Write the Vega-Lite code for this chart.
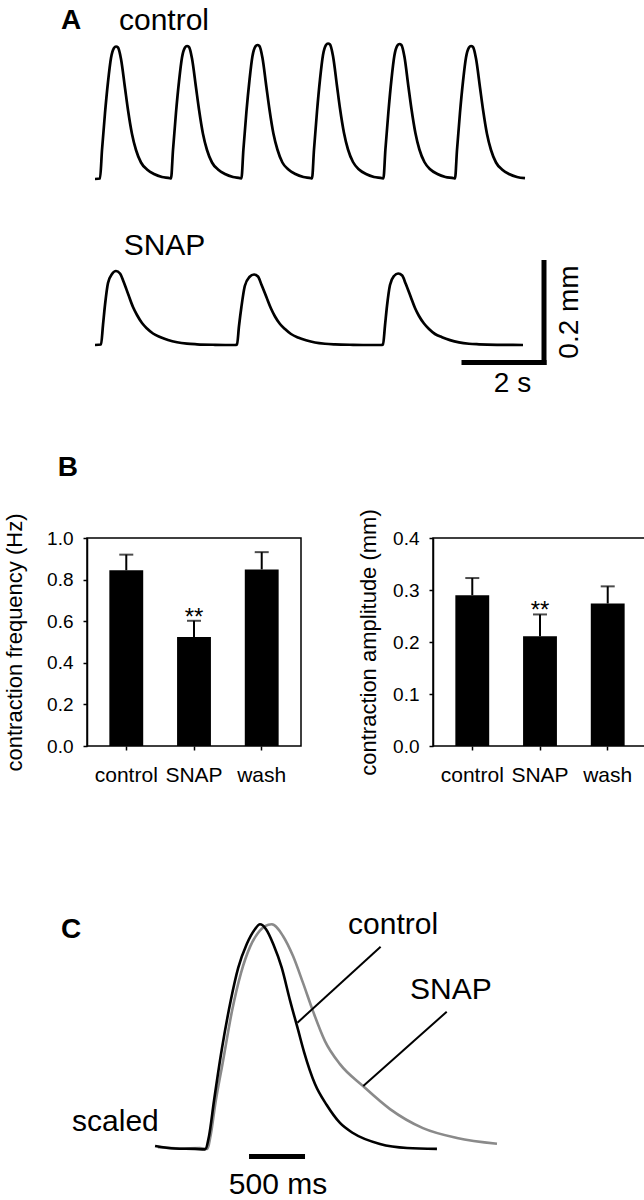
{
"$schema":"https://vega.github.io/schema/vega-lite/v6.json",
"padding":{"left":2,"top":0,"right":0,"bottom":0},
"background":"white",
"config":{
 "font":"Liberation Sans",
 "view":{"stroke":null},
 "axis":{"grid":false,"domainColor":"black","domainWidth":1.5,"tickColor":"black","tickWidth":1.5,"tickSize":4,"labelColor":"black","titleColor":"black","labelFont":"Liberation Sans","titleFont":"Liberation Sans","titleFontWeight":"normal"},
 "title":{"font":"Liberation Sans","color":"black"}
},
"datasets":{
 "ctrl":[{"t":0,"mm":0},{"t":0.125,"mm":0.001},{"t":0.175,"mm":0.058},{"t":0.25,"mm":0.132},{"t":0.325,"mm":0.194},{"t":0.4,"mm":0.242},{"t":0.475,"mm":0.262},{"t":0.525,"mm":0.265},{"t":0.575,"mm":0.263},{"t":0.65,"mm":0.24},{"t":0.75,"mm":0.182},{"t":0.825,"mm":0.138},{"t":0.925,"mm":0.09},{"t":1.025,"mm":0.058},{"t":1.15,"mm":0.033},{"t":1.3,"mm":0.019},{"t":1.475,"mm":0.01},{"t":1.675,"mm":0.004},{"t":1.875,"mm":0.0016},
  {"t":1.9,"mm":0.001},{"t":1.95,"mm":0.058},{"t":2.025,"mm":0.133},{"t":2.1,"mm":0.195},{"t":2.175,"mm":0.243},{"t":2.25,"mm":0.263},{"t":2.3,"mm":0.266},{"t":2.35,"mm":0.264},{"t":2.425,"mm":0.241},{"t":2.525,"mm":0.183},{"t":2.6,"mm":0.139},{"t":2.7,"mm":0.09},{"t":2.8,"mm":0.058},{"t":2.925,"mm":0.033},{"t":3.075,"mm":0.019},{"t":3.25,"mm":0.01},{"t":3.45,"mm":0.004},{"t":3.63,"mm":0.0016},
  {"t":3.66,"mm":0.001},{"t":3.71,"mm":0.059},{"t":3.785,"mm":0.134},{"t":3.86,"mm":0.196},{"t":3.935,"mm":0.245},{"t":4.01,"mm":0.265},{"t":4.06,"mm":0.268},{"t":4.11,"mm":0.266},{"t":4.185,"mm":0.243},{"t":4.285,"mm":0.184},{"t":4.36,"mm":0.14},{"t":4.46,"mm":0.091},{"t":4.56,"mm":0.059},{"t":4.685,"mm":0.033},{"t":4.835,"mm":0.019},{"t":5.01,"mm":0.01},{"t":5.21,"mm":0.004},{"t":5.4,"mm":0.0016},
  {"t":5.425,"mm":0.001},{"t":5.475,"mm":0.059},{"t":5.55,"mm":0.135},{"t":5.625,"mm":0.199},{"t":5.7,"mm":0.248},{"t":5.775,"mm":0.268},{"t":5.825,"mm":0.271},{"t":5.875,"mm":0.269},{"t":5.95,"mm":0.246},{"t":6.05,"mm":0.186},{"t":6.125,"mm":0.141},{"t":6.225,"mm":0.092},{"t":6.325,"mm":0.059},{"t":6.45,"mm":0.034},{"t":6.6,"mm":0.019},{"t":6.775,"mm":0.01},{"t":6.975,"mm":0.004},{"t":7.18,"mm":0.0016},
  {"t":7.21,"mm":0.001},{"t":7.26,"mm":0.059},{"t":7.335,"mm":0.134},{"t":7.41,"mm":0.198},{"t":7.485,"mm":0.247},{"t":7.56,"mm":0.267},{"t":7.61,"mm":0.27},{"t":7.66,"mm":0.268},{"t":7.735,"mm":0.245},{"t":7.835,"mm":0.185},{"t":7.91,"mm":0.141},{"t":8.01,"mm":0.092},{"t":8.11,"mm":0.059},{"t":8.235,"mm":0.034},{"t":8.385,"mm":0.019},{"t":8.56,"mm":0.01},{"t":8.76,"mm":0.004},{"t":8.97,"mm":0.0016},
  {"t":9.0,"mm":0.001},{"t":9.05,"mm":0.058},{"t":9.125,"mm":0.133},{"t":9.2,"mm":0.195},{"t":9.275,"mm":0.243},{"t":9.35,"mm":0.263},{"t":9.4,"mm":0.266},{"t":9.45,"mm":0.264},{"t":9.525,"mm":0.241},{"t":9.625,"mm":0.183},{"t":9.7,"mm":0.139},{"t":9.8,"mm":0.09},{"t":9.9,"mm":0.058},{"t":10.025,"mm":0.033},{"t":10.175,"mm":0.019},{"t":10.35,"mm":0.01},{"t":10.55,"mm":0.004},{"t":10.75,"mm":0.0016}],
 "snap":[{"t":0,"mm":0},{"t":0.15,"mm":0.001},{"t":0.2,"mm":0.04},{"t":0.25,"mm":0.08},{"t":0.325,"mm":0.124},{"t":0.425,"mm":0.142},{"t":0.525,"mm":0.148},{"t":0.625,"mm":0.143},{"t":0.7125,"mm":0.127},{"t":0.8375,"mm":0.1},{"t":0.95,"mm":0.076},{"t":1.05,"mm":0.06},{"t":1.175,"mm":0.044},{"t":1.3,"mm":0.033},{"t":1.45,"mm":0.023},{"t":1.625,"mm":0.016},{"t":1.825,"mm":0.01},{"t":2.05,"mm":0.0054},{"t":2.3,"mm":0.0026},{"t":2.55,"mm":0.0014},{"t":3.0,"mm":0.0004},{"t":3.5,"mm":0},
  {"t":3.55,"mm":0.001},{"t":3.6,"mm":0.038},{"t":3.66,"mm":0.076},{"t":3.745,"mm":0.118},{"t":3.86,"mm":0.136},{"t":3.975,"mm":0.141},{"t":4.075,"mm":0.137},{"t":4.16,"mm":0.121},{"t":4.285,"mm":0.096},{"t":4.4,"mm":0.073},{"t":4.5,"mm":0.057},{"t":4.625,"mm":0.042},{"t":4.75,"mm":0.032},{"t":4.9,"mm":0.022},{"t":5.075,"mm":0.015},{"t":5.275,"mm":0.0095},{"t":5.5,"mm":0.005},{"t":5.75,"mm":0.0025},{"t":6.0,"mm":0.0013},{"t":6.45,"mm":0.0004},{"t":6.9,"mm":0},{"t":7.15,"mm":0},
  {"t":7.2,"mm":0.001},{"t":7.25,"mm":0.039},{"t":7.3,"mm":0.078},{"t":7.375,"mm":0.12},{"t":7.475,"mm":0.138},{"t":7.58,"mm":0.143},{"t":7.68,"mm":0.139},{"t":7.765,"mm":0.123},{"t":7.89,"mm":0.097},{"t":8.0,"mm":0.074},{"t":8.1,"mm":0.058},{"t":8.225,"mm":0.043},{"t":8.35,"mm":0.032},{"t":8.5,"mm":0.022},{"t":8.675,"mm":0.0155},{"t":8.875,"mm":0.0097},{"t":9.1,"mm":0.0052},{"t":9.35,"mm":0.0025},{"t":9.6,"mm":0.0014},{"t":10.05,"mm":0.0004},{"t":10.7,"mm":0}],
 "freq":[{"cond":"control","v":0.845,"hi":0.92,"sig":""},{"cond":"SNAP","v":0.524,"hi":0.602,"sig":"**"},{"cond":"wash","v":0.849,"hi":0.932,"sig":""}],
 "amp":[{"cond":"control","v":0.29,"hi":0.323,"sig":""},{"cond":"SNAP","v":0.211,"hi":0.253,"sig":"**"},{"cond":"wash","v":0.274,"hi":0.307,"sig":""}],
 "cC":[{"ms":-446,"n":0.009},{"ms":-268,"n":-0.002},{"ms":-89,"n":-0.004},{"ms":0,"n":-0.006},{"ms":36,"n":0.054},{"ms":80,"n":0.21},{"ms":149,"n":0.438},{"ms":229,"n":0.657},{"ms":297,"n":0.806},{"ms":372,"n":0.911},{"ms":446,"n":0.978},{"ms":491,"n":1.0},{"ms":545,"n":0.978},{"ms":610,"n":0.911},{"ms":685,"n":0.806},{"ms":759,"n":0.66},{"ms":830,"n":0.53},{"ms":884,"n":0.43},{"ms":982,"n":0.286},{"ms":1087,"n":0.192},{"ms":1205,"n":0.112},{"ms":1321,"n":0.067},{"ms":1562,"n":0.018},{"ms":1804,"n":0.0},{"ms":2071,"n":-0.004}],
 "cS":[{"ms":-420,"n":0.004},{"ms":-223,"n":-0.002},{"ms":-45,"n":0.0},{"ms":18,"n":-0.004},{"ms":54,"n":0.067},{"ms":89,"n":0.188},{"ms":161,"n":0.389},{"ms":241,"n":0.612},{"ms":321,"n":0.782},{"ms":402,"n":0.899},{"ms":473,"n":0.961},{"ms":536,"n":0.992},{"ms":596,"n":1.0},{"ms":696,"n":0.948},{"ms":786,"n":0.858},{"ms":875,"n":0.738},{"ms":964,"n":0.612},{"ms":1071,"n":0.478},{"ms":1205,"n":0.375},{"ms":1411,"n":0.277},{"ms":1652,"n":0.174},{"ms":1946,"n":0.089},{"ms":2250,"n":0.045},{"ms":2607,"n":0.019}]
},
"spacing":10,
"vconcat":[
 {
  "width":557,"height":443,
  "encoding":{"x":{"field":"t","type":"quantitative","scale":{"domain":[-0.2,13.725],"nice":false,"zero":false},"axis":null}},
  "layer":[
   {"data":{"name":"ctrl"},"mark":{"type":"line","color":"black","strokeWidth":2.7,"interpolate":"monotone"},
    "encoding":{"y":{"field":"mm","type":"quantitative","scale":{"domain":[-0.528,0.358],"nice":false,"zero":false},"axis":null}}},
   {"data":{"name":"snap"},"mark":{"type":"line","color":"black","strokeWidth":2.7,"interpolate":"monotone"},
    "encoding":{"y":{"field":"mm","type":"quantitative","scale":{"domain":[-0.196,0.69],"nice":false,"zero":false},"axis":null}}},
   {"data":{"values":[{"t":11.225,"t2":11.225,"mm":0,"mm2":0.2},{"t":9.225,"t2":11.225,"mm":0,"mm2":0}]},
    "mark":{"type":"rule","color":"black","strokeWidth":5,"strokeCap":"square"},
    "encoding":{"x2":{"field":"t2"},"y":{"field":"mm","type":"quantitative","scale":{"domain":[-0.161,0.725],"nice":false,"zero":false},"axis":null},"y2":{"field":"mm2"}}},
   {"data":{"values":[{"t":-0.85,"mm":0.3,"label":"A"}]},
    "mark":{"type":"text","fontSize":28,"fontWeight":"bold","align":"left","baseline":"alphabetic","color":"black"},
    "encoding":{"y":{"field":"mm","type":"quantitative","scale":{"domain":[-0.528,0.358],"nice":false,"zero":false},"axis":null},"text":{"field":"label"}}},
   {"data":{"values":[{"t":1.725,"mm":0.298,"label":"control"},{"t":1.7375,"mm":-0.152,"label":"SNAP"}]},
    "mark":{"type":"text","fontSize":30,"align":"center","baseline":"alphabetic","color":"black"},
    "encoding":{"y":{"field":"mm","type":"quantitative","scale":{"domain":[-0.528,0.358],"nice":false,"zero":false},"axis":null},"text":{"field":"label"}}},
   {"data":{"values":[{"t":10.4375,"mm":-0.4254,"label":"2 s"}]},
    "mark":{"type":"text","fontSize":28,"align":"center","baseline":"alphabetic","color":"black"},
    "encoding":{"y":{"field":"mm","type":"quantitative","scale":{"domain":[-0.528,0.358],"nice":false,"zero":false},"axis":null},"text":{"field":"label"}}},
   {"data":{"values":[{"t":11.875,"mm":-0.266,"label":"0.2 mm"}]},
    "mark":{"type":"text","fontSize":28,"angle":270,"align":"center","baseline":"middle","color":"black"},
    "encoding":{"y":{"field":"mm","type":"quantitative","scale":{"domain":[-0.528,0.358],"nice":false,"zero":false},"axis":null},"text":{"field":"label"}}}
  ],
  "resolve":{"scale":{"y":"independent"}}
 },
 {
  "title":{"text":"B","anchor":"start","fontSize":28,"fontWeight":"bold","offset":26,"dx":55},
  "spacing":54,
  "hconcat":[
   {
    "width":214,"height":208,
    "view":{"stroke":"black","strokeWidth":1.5},
    "data":{"name":"freq"},
    "encoding":{
     "x":{"field":"cond","type":"nominal","sort":["control","SNAP","wash"],"scale":{"paddingInner":0.5,"paddingOuter":0.33},"axis":{"title":null,"labelAngle":0,"labelFontSize":21,"labelPadding":14,"domain":false}},
     "y":{"field":"v","type":"quantitative","title":"contraction frequency (Hz)","scale":{"domain":[0,1],"nice":false},"axis":{"values":[0,0.2,0.4,0.6,0.8,1],"format":".1f","labelFontSize":19,"labelPadding":10,"titleFontSize":22,"titlePadding":20}}
    },
    "layer":[
     {"mark":{"type":"bar","color":"black"},"encoding":{}},
     {"mark":{"type":"rule","color":"black","strokeWidth":2},"encoding":{"y2":{"field":"hi"}}},
     {"mark":{"type":"tick","color":"black","thickness":2,"size":14},"encoding":{"y":{"field":"hi","type":"quantitative","title":"contraction frequency (Hz)","scale":{"domain":[0,1],"nice":false}}}},
     {"mark":{"type":"text","fontSize":24,"baseline":"alphabetic","dy":4,"color":"black"},"encoding":{"y":{"field":"hi","type":"quantitative","title":"contraction frequency (Hz)","scale":{"domain":[0,1],"nice":false}},"text":{"field":"sig"}}}
    ]
   },
   {
    "width":214,"height":208,
    "view":{"stroke":"black","strokeWidth":1.5},
    "data":{"name":"amp"},
    "encoding":{
     "x":{"field":"cond","type":"nominal","sort":["control","SNAP","wash"],"scale":{"paddingInner":0.5,"paddingOuter":0.33},"axis":{"title":null,"labelAngle":0,"labelFontSize":21,"labelPadding":14,"domain":false}},
     "y":{"field":"v","type":"quantitative","title":"contraction amplitude (mm)","scale":{"domain":[0,0.4],"nice":false},"axis":{"values":[0,0.1,0.2,0.3,0.4],"format":".1f","labelFontSize":19,"labelPadding":10,"titleFontSize":22,"titlePadding":12}}
    },
    "layer":[
     {"mark":{"type":"bar","color":"black"},"encoding":{}},
     {"mark":{"type":"rule","color":"black","strokeWidth":2},"encoding":{"y2":{"field":"hi"}}},
     {"mark":{"type":"tick","color":"black","thickness":2,"size":14},"encoding":{"y":{"field":"hi","type":"quantitative","title":"contraction amplitude (mm)","scale":{"domain":[0,0.4],"nice":false}}}},
     {"mark":{"type":"text","fontSize":24,"baseline":"alphabetic","dy":4,"color":"black"},"encoding":{"y":{"field":"hi","type":"quantitative","title":"contraction amplitude (mm)","scale":{"domain":[0,0.4],"nice":false}},"text":{"field":"sig"}}}
    ]
   }
  ]
 },
 {
  "width":557,"height":405,
  "encoding":{
   "x":{"field":"ms","type":"quantitative","scale":{"domain":[-1053.6,3919.6],"nice":false,"zero":false},"axis":null},
   "y":{"field":"n","type":"quantitative","scale":{"domain":[-0.2369,1.5735],"nice":false,"zero":false},"axis":null}
  },
  "layer":[
   {"data":{"name":"cS"},"mark":{"type":"line","color":"#8a8a8a","strokeWidth":2.6,"interpolate":"monotone"},"encoding":{}},
   {"data":{"name":"cC"},"mark":{"type":"line","color":"black","strokeWidth":2.6,"interpolate":"monotone"},"encoding":{}},
   {"data":{"values":[{"ms":1568,"n":0.9,"ms2":825,"n2":0.56},{"ms":2158,"n":0.609,"ms2":1413,"n2":0.277}]},
    "mark":{"type":"rule","color":"black","strokeWidth":2},"encoding":{"x2":{"field":"ms2"},"y2":{"field":"n2"}}},
   {"data":{"values":[{"ms":393,"n":-0.038,"ms2":893,"n2":-0.038}]},
    "mark":{"type":"rule","color":"black","strokeWidth":5},"encoding":{"x2":{"field":"ms2"},"y2":{"field":"n2"}}},
   {"data":{"values":[{"ms":-1286,"n":0.939,"label":"C"}]},
    "mark":{"type":"text","fontSize":28,"fontWeight":"bold","align":"left","baseline":"alphabetic","color":"black"},"encoding":{"text":{"field":"label"}}},
   {"data":{"values":[{"ms":1277,"n":0.957,"label":"control"},{"ms":1830,"n":0.666,"label":"SNAP"},{"ms":-1187,"n":0.076,"label":"scaled"}]},
    "mark":{"type":"text","fontSize":30,"align":"left","baseline":"alphabetic","color":"black"},"encoding":{"text":{"field":"label"}}},
   {"data":{"values":[{"ms":652,"n":-0.2056,"label":"500 ms"}]},
    "mark":{"type":"text","fontSize":30,"align":"center","baseline":"alphabetic","color":"black"},"encoding":{"text":{"field":"label"}}}
  ]
 }
]
}
